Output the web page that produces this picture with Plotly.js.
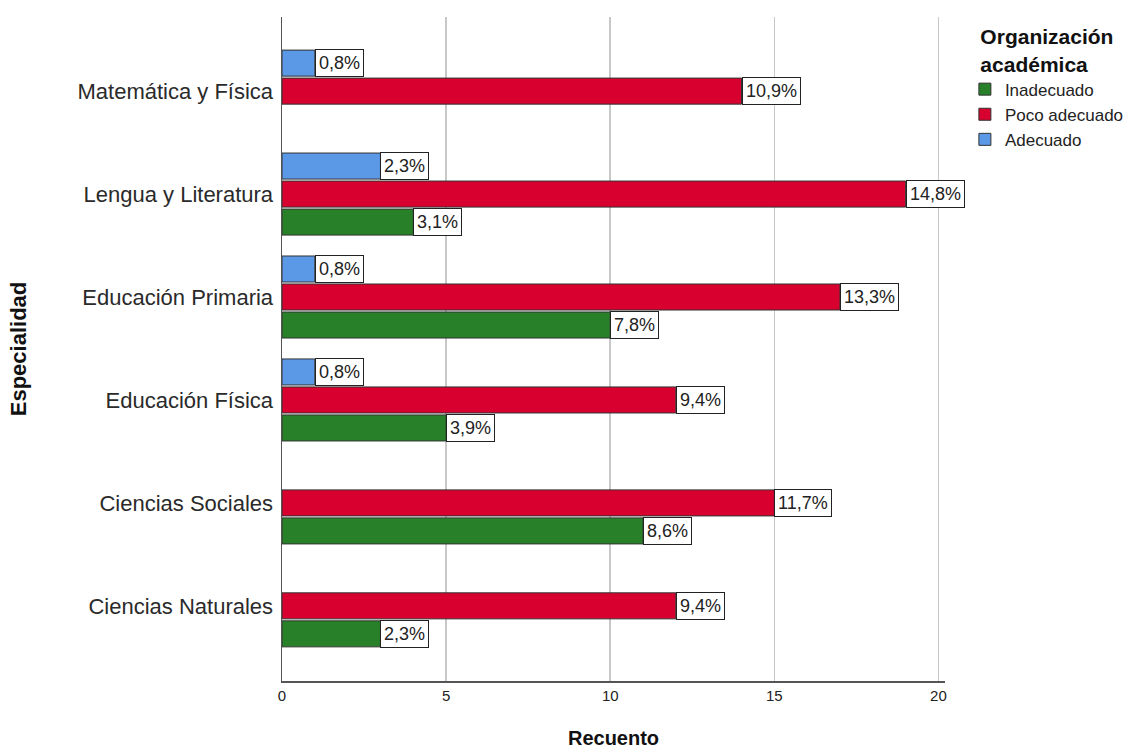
<!DOCTYPE html>
<html>
<head>
<meta charset="utf-8">
<script src="https://cdn.plot.ly/plotly-3.0.1.min.js"></script>
<style>html,body{margin:0;padding:0;background:#fff;}#chart{width:1148px;height:753px;}</style>
</head>
<body>
<div id="chart"></div>
<script>
// Categories listed bottom-to-top
var categories = ["Ciencias Naturales", "Ciencias Sociales", "Educación Física", "Educación Primaria", "Lengua y Literatura", "Matemática y Física"];

// Counts (null = no bar)
var inadecuado     = [3, 11, 5, 10, 4, null];
var pocoAdecuado   = [12, 15, 12, 17, 19, 14];
var adecuado       = [null, null, 1, 1, 3, 1];

// Percentage labels
var inadecuadoLbl   = ["2,3%", "8,6%", "3,9%", "7,8%", "3,1%", null];
var pocoAdecuadoLbl = ["9,4%", "11,7%", "9,4%", "13,3%", "14,8%", "10,9%"];
var adecuadoLbl     = [null, null, "0,8%", "0,8%", "2,3%", "0,8%"];

var seriesNames = ["Inadecuado", "Poco adecuado", "Adecuado"];
var seriesVals = [inadecuado, pocoAdecuado, adecuado];
var seriesLbls = [inadecuadoLbl, pocoAdecuadoLbl, adecuadoLbl];
var colors = ["#288028", "#d8002e", "#5b98e6"];

var bargap = 0.184, bargroupgap = 0.07;
var traces = seriesNames.map(function(n, i){
  return {
    type: "bar", orientation: "h", name: n,
    y: categories, x: seriesVals[i],
    marker: {color: colors[i], line: {color: "#333333", width: 1}},
    hoverinfo: "x+y+name"
  };
});

var annotations = [];
var groupW = 1 - bargap, per = groupW / 3;
seriesVals.forEach(function(vals, i){
  vals.forEach(function(v, j){
    if (v === null) return;
    annotations.push({
      xref: "x", yref: "y", x: v, y: j - groupW/2 + (i + 0.5) * per,
      text: seriesLbls[i][j], showarrow: false, xanchor: "left", yanchor: "middle",
      bgcolor: "#ffffff", bordercolor: "#222222", borderwidth: 1, borderpad: 3,
      font: {family: "Arial, Liberation Sans, sans-serif", size: 18, color: "#222"}
    });
  });
});

var layout = {
  width: 1148, height: 753,
  margin: {l: 282, r: 203, t: 17, b: 72},
  paper_bgcolor: "#ffffff", plot_bgcolor: "#ffffff",
  barmode: "group", bargap: bargap, bargroupgap: bargroupgap,
  showlegend: true,
  font: {family: "Arial, Liberation Sans, sans-serif", color: "#222"},
  xaxis: {
    range: [0, 20.2], tickvals: [0, 5, 10, 15, 20], ticks: "", showgrid: true,
    gridcolor: "#c8c8c8", gridwidth: 1.5, zeroline: false,
    showline: true, linecolor: "#555", linewidth: 1.5,
    tickfont: {size: 15, color: "#222"},
    title: {text: "<b>Recuento</b>", font: {size: 20, color: "#111"}, standoff: 28}
  },
  yaxis: {
    type: "category", categoryorder: "array", categoryarray: categories,
    range: [-0.73, 5.72], ticks: "", showgrid: false, zeroline: false,
    showline: true, linecolor: "#555", linewidth: 1.5,
    tickfont: {size: 22, color: "#2a2a2a"}, ticklabelstandoff: 3,
    title: {text: "<b>Especialidad</b>", font: {size: 22, color: "#111"}, standoff: 45}
  },
  legend: {
    x: 1.03, xanchor: "left", y: 1.0, yanchor: "top",
    traceorder: "normal",
    font: {size: 17, color: "#222"},
    title: {text: "<b>Organización<br>académica</b>", side: "top center", font: {size: 21, color: "#111"}},
    tracegroupgap: 0, itemwidth: 30, bgcolor: "rgba(0,0,0,0)"
  },
  annotations: annotations
};

Plotly.newPlot("chart", traces, layout, {displayModeBar: false, staticPlot: true});
</script>
</body>
</html>
